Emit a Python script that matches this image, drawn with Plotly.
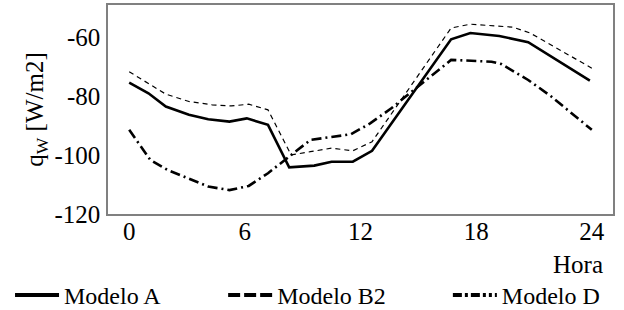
import plotly.graph_objects as go

# Hours and heat flux values (W/m2)
a_hora = [0, 1.0, 1.9, 3.1, 4.1, 5.2, 6.1, 7.2, 8.3, 9.6, 10.5, 11.6, 12.6, 16.7, 17.7, 19.2, 20.7, 23.9]
a_q = [-75.5, -79.1, -83.6, -86.4, -87.9, -88.7, -87.6, -89.8, -104.2, -103.6, -102.3, -102.3, -98.6,
       -60.8, -58.7, -59.7, -61.8, -74.8]

b2_hora = [0, 1.0, 1.9, 3.1, 4.3, 5.3, 6.2, 7.2, 8.4, 9.4, 10.5, 11.6, 12.6, 16.7, 17.7, 19.9, 20.8, 24.0]
b2_q = [-71.8, -75.7, -79.4, -81.9, -83.0, -83.4, -82.8, -84.7, -100.0, -98.9, -97.7, -98.6, -95.5,
        -57.0, -55.7, -56.7, -58.7, -70.6]

d_hora = [0, 1.1, 2.0, 3.1, 4.1, 5.2, 6.2, 7.2, 8.4, 9.4, 10.4, 11.5, 12.5, 13.6, 14.7, 16.7, 18.8,
          19.3, 20.7, 21.9, 24.0]
d_q = [-91.5, -101.7, -105.1, -107.9, -110.7, -111.9, -110.5, -106.2, -100.0, -94.9, -94.0, -93.0,
       -89.3, -84.2, -78.3, -67.8, -68.4, -69.2, -74.6, -80.2, -91.5]

x_ticks = [0, 6, 12, 18, 24]
y_ticks = [-60, -80, -100, -120]
names = ["Modelo A", "Modelo B2", "Modelo D"]

FONT = "Liberation Serif, Times New Roman, serif"
FS = 25

fig = go.Figure()
fig.add_trace(go.Scatter(x=a_hora, y=a_q, mode="lines", showlegend=False,
                         line=dict(color="black", width=2.6)))
fig.add_trace(go.Scatter(x=b2_hora, y=b2_q, mode="lines", showlegend=False,
                         line=dict(color="black", width=1.2, dash="5px,4px")))
fig.add_trace(go.Scatter(x=d_hora, y=d_q, mode="lines", showlegend=False,
                         line=dict(color="black", width=2.6, dash="10px,4px,2px,4px")))

# legend entries (separate legends to match spacing)
fig.add_trace(go.Scatter(x=[None], y=[None], mode="lines", name=names[0], legend="legend",
                         line=dict(color="black", width=4)))
fig.add_trace(go.Scatter(x=[None], y=[None], mode="lines", name=names[1], legend="legend2",
                         line=dict(color="black", width=4, dash="12px,4px")))
fig.add_trace(go.Scatter(x=[None], y=[None], mode="lines", name=names[2], legend="legend3",
                         line=dict(color="black", width=4,
                                   dash="9px,3px,3px,3px,9px,3px,3px,3px,3px,3px")))

leg_common = dict(orientation="h", yanchor="middle", y=-0.39, xanchor="left",
                  font=dict(family=FONT, size=24, color="black"), bgcolor="rgba(0,0,0,0)",
                  itemwidth=44, borderwidth=0, tracegroupgap=0)

fig.update_layout(
    width=624, height=310,
    margin=dict(l=108, r=11, t=5, b=96, autoexpand=False),
    paper_bgcolor="white", plot_bgcolor="white",
    font=dict(family=FONT, size=FS, color="black"),
    legend=dict(leg_common, x=-0.194),
    legend2=dict(leg_common, x=0.228),
    legend3=dict(leg_common, x=0.673),
    xaxis=dict(range=[-1.1, 25.1], tickvals=x_ticks, ticktext=[str(t) for t in x_ticks],
               showgrid=False, zeroline=False, showline=True, mirror=True,
               linecolor="#808080", linewidth=1.5, ticks="outside", ticklen=1, tickcolor="white",
               ticklabelstandoff=-7,
               tickfont=dict(family=FONT, size=FS, color="black")),
    yaxis=dict(range=[-120, -49.2], tickvals=y_ticks, ticktext=[str(t) for t in y_ticks],
               showgrid=False, zeroline=False, showline=True, mirror=True,
               linecolor="#808080", linewidth=1.5, ticks="outside", ticklen=1, tickcolor="white",
               tickfont=dict(family=FONT, size=FS, color="black"),
               title=dict(text="q<sub>W</sub> [W/m2]", font=dict(family=FONT, size=FS, color="black"),
                          standoff=4)),
)

fig.add_annotation(text="Hora", xref="paper", yref="paper", x=0.984, y=-0.24,
                   xanchor="right", yanchor="middle", showarrow=False,
                   font=dict(family=FONT, size=FS, color="black"))

fig.write_html("out.html", config={"displayModeBar": False},
               post_script="document.body.style.margin='0px';")
